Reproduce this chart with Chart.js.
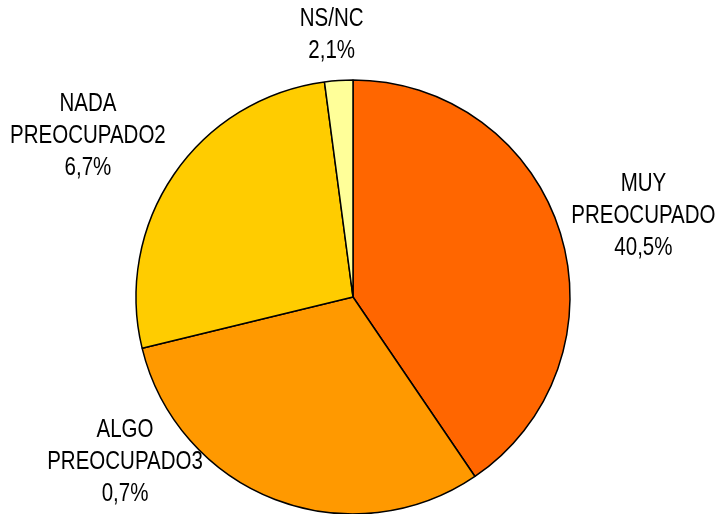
<!DOCTYPE html>
<html>
<head>
<meta charset="utf-8">
<script src="https://cdn.jsdelivr.net/npm/chart.js@4.4.1/dist/chart.umd.min.js"></script>
<style>
    body { margin: 0; background: #fff; }
    #wrap { width: 722px; height: 514px; position: relative; }
</style>
</head>
<body>
<div id="wrap"><canvas id="pieChart"></canvas></div>
<script>
    var categories = ['MUY PREOCUPADO', 'ALGO PREOCUPADO', 'NADA PREOCUPADO', 'NS/NC'];
    var values = [40.5, 30.7, 26.7, 2.1];
    // label texts exactly as printed on the chart
    var labelLines = [
        ['MUY', 'PREOCUPADO', '40,5%'],
        ['ALGO', 'PREOCUPADO3', '0,7%'],
        ['NADA', 'PREOCUPADO2', '6,7%'],
        ['NS/NC', '2,1%']
    ];
    var colors = ['#FF6600', '#FF9900', '#FFCC00', '#FFFF99'];

    // where each label block sits, relative to the middle of its slice's rim
    var labelShift = [[83, -17], [-150, -37], [-86, -38], [-7, -45]];

    var ctx0 = document.createElement('canvas').getContext('2d');
    ctx0.font = '25px "Liberation Sans Narrow", monospace';
    var w1 = ctx0.measureText('PREOCUPADO').width;
    ctx0.font = '25px monospace';
    var w2 = ctx0.measureText('PREOCUPADO').width;
    var hasNarrow = Math.abs(w1 - w2) > 0.5;

    var outsideLabels = {
        id: 'outsideLabels',
        afterDatasetsDraw: function (chart) {
            var c = chart.ctx;
            var arcs = chart.getDatasetMeta(0).data;
            c.save();
            c.fillStyle = '#000';
            c.textAlign = 'center';
            c.textBaseline = 'middle';
            c.font = hasNarrow ? '25px "Liberation Sans Narrow"' : '25px "Liberation Sans"';
            arcs.forEach(function (arc, i) {
                var p = arc.getProps(['x', 'y', 'startAngle', 'endAngle', 'outerRadius']);
                var mid = (p.startAngle + p.endAngle) / 2;
                var cx = p.x + Math.cos(mid) * p.outerRadius + labelShift[i][0];
                var cy = p.y + Math.sin(mid) * p.outerRadius + labelShift[i][1];
                var lines = labelLines[i];
                var lh = 32;
                var top = cy - (lines.length - 1) * lh / 2;
                lines.forEach(function (t, k) {
                    c.save();
                    c.translate(cx, top + k * lh);
                    if (!hasNarrow) c.scale(0.82, 1);
                    c.fillText(t, 0, 0);
                    c.restore();
                });
            });
            c.restore();
        }
    };

    var ctx = document.getElementById('pieChart').getContext('2d');
    var myChart = new Chart(ctx, {
        type: 'pie',
        data: {
            labels: categories,
            datasets: [{
                data: values,
                backgroundColor: colors,
                borderColor: '#000',
                borderWidth: 1.5,
                radius: 217,
                clip: false
            }]
        },
        options: {
            responsive: true,
            maintainAspectRatio: false,
            animation: false,
            layout: { padding: { top: 80, bottom: 0, left: 0, right: 16 } },
            plugins: {
                legend: { display: false },
                tooltip: { enabled: false }
            }
        },
        plugins: [outsideLabels]
    });
</script>
</body>
</html>
